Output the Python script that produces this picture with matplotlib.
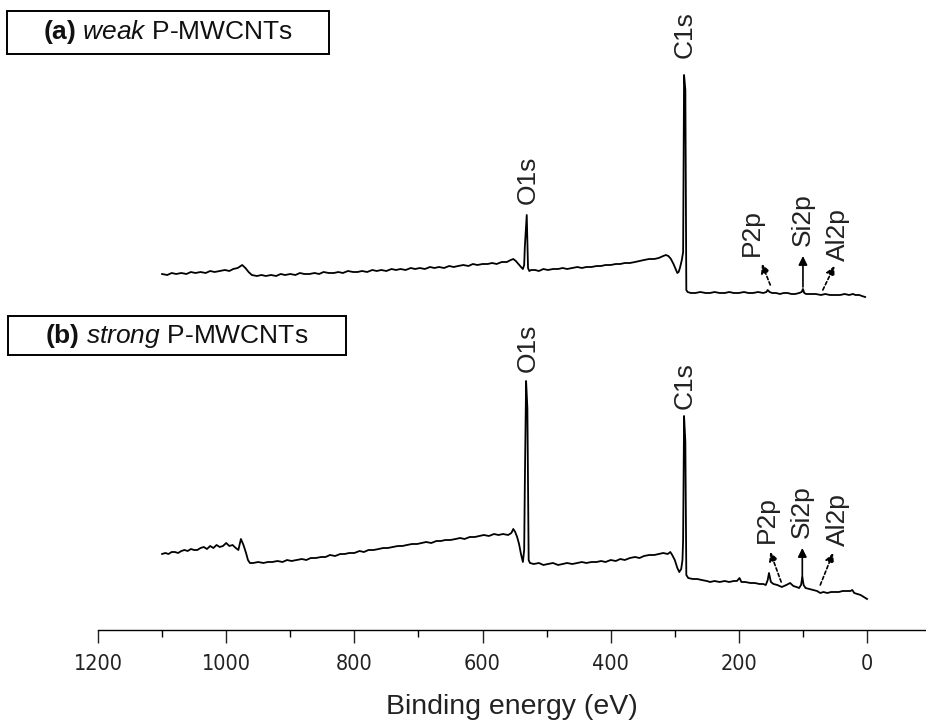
import matplotlib
matplotlib.use("Agg")
import os
import matplotlib.pyplot as plt
from matplotlib.patches import Rectangle
from matplotlib.ticker import MultipleLocator
from matplotlib import font_manager
from matplotlib.font_manager import FontProperties

plt.rcParams['font.family'] = ['Liberation Sans', 'DejaVu Sans']
plt.rcParams['mathtext.fontset'] = 'custom'
plt.rcParams['mathtext.rm'] = 'Liberation Sans'
plt.rcParams['mathtext.it'] = 'Liberation Sans:italic'
plt.rcParams['mathtext.bf'] = 'Liberation Sans:bold'

# ---- data: binding energy (eV) and intensity (arb. units, stacked) ----
energy_a = [1100, 1092, 1085, 1078, 1070, 1062, 1055, 1048, 1040, 1032,
            1025, 1018, 1010, 1002, 995, 989, 982, 975, 970, 965,
            960, 952, 945, 938, 930, 922, 915, 908, 900, 892,
            885, 878, 870, 862, 855, 848, 840, 832, 825, 818,
            810, 802, 795, 788, 780, 772, 765, 758, 750, 742,
            735, 728, 720, 712, 705, 698, 690, 682, 675, 668,
            660, 652, 645, 638, 630, 622, 615, 608, 600, 592,
            585, 578, 570, 562, 556, 552, 548, 544, 540, 537,
            535, 534, 531, 529, 527, 524, 518, 512, 505, 498,
            490, 482, 475, 468, 460, 452, 445, 438, 430, 422,
            415, 408, 400, 392, 385, 378, 370, 362, 355, 348,
            340, 332, 325, 318, 314, 310, 306, 302, 298, 296,
            294, 292, 289, 287, 285.5, 283.5, 282, 280, 275, 268,
            260, 252, 245, 238, 230, 222, 215, 208, 200, 192,
            185, 178, 170, 162, 157, 155, 152, 148, 142, 136,
            130, 124, 118, 112, 106, 102, 100, 98, 95, 88,
            80, 72, 65, 58, 50, 42, 35, 28, 22, 18,
            12, 8, 3]
intensity_a = [356, 355, 357, 356, 357, 356, 358, 357, 358, 357,
               359, 358, 359, 360, 359, 361, 362, 365, 362, 358,
               355, 354, 355, 354, 355, 354, 356, 355, 356, 355,
               357, 356, 356, 357, 356, 358, 357, 357, 358, 357,
               359, 358, 358, 359, 358, 360, 359, 360, 359, 361,
               360, 361, 360, 362, 361, 362, 361, 363, 362, 363,
               362, 364, 363, 364, 365, 364, 366, 365, 366, 366,
               367, 366, 368, 368, 370, 371, 369, 366, 363, 361,
               365, 383, 415, 362, 359, 360, 360, 359, 361, 360,
               361, 361, 362, 361, 362, 363, 362, 363, 363, 364,
               364, 365, 365, 366, 366, 367, 367, 368, 369, 370,
               371, 371, 372, 374, 375, 374, 371, 366, 360, 357,
               358, 362, 370, 378, 555, 540, 340, 338, 337, 337,
               338, 337, 337, 338, 337, 337, 338, 337, 337, 338,
               337, 337, 338, 337, 338, 340, 338, 337, 337, 336,
               337, 337, 336, 336, 337, 338, 341, 337, 336, 336,
               336, 335, 336, 335, 335, 335, 336, 335, 336, 335,
               335, 334, 333]

energy_b = [1100, 1095, 1090, 1085, 1080, 1075, 1070, 1065, 1060, 1055,
            1050, 1045, 1040, 1035, 1030, 1025, 1020, 1015, 1010, 1005,
            1000, 995, 990, 985, 981, 977, 973, 969, 966, 963,
            958, 950, 942, 935, 928, 920, 912, 905, 898, 890,
            882, 875, 868, 860, 852, 845, 838, 830, 822, 815,
            808, 800, 792, 785, 778, 770, 762, 755, 748, 740,
            732, 725, 718, 710, 702, 695, 688, 680, 672, 665,
            658, 650, 642, 635, 628, 620, 612, 605, 598, 590,
            582, 575, 568, 560, 555, 552, 549, 546, 543, 540,
            537, 535, 534, 532, 530, 528, 526, 520, 512, 505,
            498, 490, 482, 475, 468, 460, 452, 445, 438, 430,
            422, 415, 408, 400, 392, 385, 378, 370, 362, 355,
            348, 340, 332, 325, 318, 311, 307, 304, 300, 296,
            293, 290, 288, 287, 285.5, 283.5, 282, 279, 272, 265,
            258, 250, 245, 238, 230, 222, 215, 208, 203, 199,
            196, 190, 182, 175, 168, 162, 158, 155, 153, 150,
            146, 140, 133, 126, 120, 115, 110, 106, 103, 101,
            99, 96, 90, 84, 78, 73, 68, 62, 56, 50,
            44, 38, 32, 26, 23, 20, 15, 10, 5, 0]
intensity_b = [76, 77, 76, 78, 78, 77, 79, 80, 79, 81,
               80, 80, 82, 83, 81, 84, 82, 85, 83, 84,
               87, 84, 85, 82, 80, 91, 85, 77, 70, 67,
               67, 68, 67, 68, 68, 69, 68, 70, 69, 70,
               71, 70, 72, 72, 73, 73, 75, 74, 76, 76,
               77, 77, 79, 78, 80, 80, 81, 82, 82, 83,
               84, 84, 85, 86, 86, 87, 88, 87, 89, 89,
               90, 90, 91, 92, 91, 93, 93, 94, 95, 94,
               96, 95, 96, 95, 97, 101, 98, 93, 86, 76,
               68, 80, 145, 249, 222, 70, 67, 66, 67, 65,
               66, 67, 65, 66, 67, 66, 67, 68, 67, 68,
               68, 69, 68, 70, 69, 71, 70, 72, 73, 72,
               74, 75, 75, 76, 77, 76, 78, 75, 70, 62,
               58, 61, 70, 90, 214, 188, 55, 52, 51, 51,
               50, 49, 48, 49, 48, 49, 48, 49, 49, 52,
               48, 48, 47, 47, 46, 46, 45, 50, 57, 48,
               46, 45, 43, 45, 47, 44, 43, 42, 45, 53,
               45, 42, 41, 40, 39, 37, 38, 37, 38, 38,
               38, 39, 39, 39, 40, 37, 36, 35, 33, 31]

# peak labels: (text, energy, intensity)
labels_a = [("O1s", 530, 450), ("C1s", 284, 595), ("P2p", 179, 397),
            ("Si2p", 100, 410), ("Al2p", 45, 395)]
labels_b = [("O1s", 530, 282), ("C1s", 284, 244), ("P2p", 156, 110),
            ("Si2p", 101, 118), ("Al2p", 45, 110)]

# arrows: (tail energy, tail intensity, tip energy, tip intensity, dashed?)
arrows_a = [(151, 345, 164, 366, True), (100, 343, 100, 374, False), (69, 340, 51, 364, True)]
arrows_b = [(134, 48, 151, 78, True), (101, 52, 101, 82, False), (73, 45, 53, 77, True)]

panel_titles = [r"$\mathbf{(a)}$ $\mathit{weak}$ P-MWCNTs",
                r"$\mathbf{(b)}$ $\mathit{strong}$ P-MWCNTs"]

xticks = [1200, 1000, 800, 600, 400, 200, 0]

# ---- tick font: a narrow sans if one is installed ----
tick_fp = FontProperties(family='Liberation Sans', size=14.5)
for f in font_manager.fontManager.ttflist:
    base = os.path.basename(f.fname)
    if base in ('LiberationSansNarrow-Regular.ttf', 'DejaVuSansCondensed.ttf'):
        tick_fp = FontProperties(fname=f.fname, size=15.5)
        break

W, H = 926, 724
fig = plt.figure(figsize=(W / 100, H / 100), dpi=100)
ax = fig.add_axes([98 / W, (H - 630) / H, (926 - 98) / W, 630 / H])

ax.plot(energy_a, intensity_a, color='black', lw=1.3)
ax.plot(energy_b, intensity_b, color='black', lw=1.3)

ax.set_xlim(1200, -92)
ax.set_ylim(0, 630)
for s in ['left', 'right', 'top']:
    ax.spines[s].set_visible(False)
ax.spines['bottom'].set_linewidth(1.0)
ax.set_yticks([])
ax.set_xticks(xticks)
ax.set_xticklabels([str(t) for t in xticks], fontproperties=tick_fp)
ax.xaxis.set_minor_locator(MultipleLocator(100))
ax.tick_params(axis='x', which='major', direction='out', length=9, width=1.0,
               pad=8, colors='#222222')
ax.tick_params(axis='x', which='minor', direction='out', length=5, width=1.0)
ax.set_xlabel("Binding energy (eV)", fontsize=20.5, labelpad=15, color='#222222')

for lab in (labels_a, labels_b):
    for t, e, i in lab:
        ax.text(e, i, t, rotation=90, ha='center', va='center', fontsize=19,
                color='#222222')

for arr in (arrows_a, arrows_b):
    for x0, y0, x1, y1, dashed in arr:
        ax.annotate("", xy=(x1, y1), xytext=(x0, y0),
                    arrowprops=dict(arrowstyle='-|>', lw=1.2,
                                    ls=(0, (2, 1.5)) if dashed else '-',
                                    color='black', mutation_scale=13,
                                    shrinkA=0, shrinkB=0))

# title boxes (pixel coords -> figure fraction)
boxes = [(7, 11, 329, 54), (8, 316, 346, 355)]
for (x0, y0, x1, y1), title in zip(boxes, panel_titles):
    fig.patches.append(Rectangle((x0 / W, 1 - y1 / H), (x1 - x0) / W, (y1 - y0) / H,
                                 transform=fig.transFigure, fill=False,
                                 edgecolor='black', lw=1.4))
    fig.text((x0 + x1) / 2 / W, 1 - (y0 + y1) / 2 / H, title, ha='center',
             va='center', fontsize=19, color='#111111')

fig.savefig("out.png", dpi=100)
